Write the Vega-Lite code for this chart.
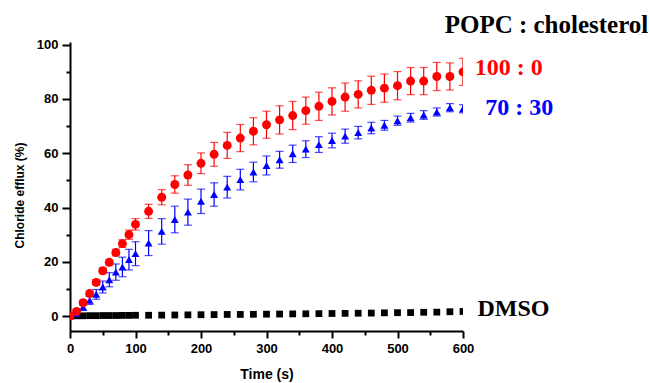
{
  "$schema": "https://vega.github.io/schema/vega-lite/v6.json",
  "width": 393,
  "height": 289,
  "autosize": {"type": "none"},
  "padding": {"left": 70, "top": 42, "right": 187, "bottom": 52},
  "background": "white",
  "config": {
    "view": {"stroke": null},
    "axis": {
      "domainColor": "black", "tickColor": "black", "domainWidth": 2, "tickWidth": 2,
      "grid": false, "labelFont": "Liberation Sans", "labelFontWeight": "bold", "labelFontSize": 13,
      "labelColor": "black", "titleFont": "Liberation Sans", "titleFontWeight": "bold", "titleColor": "black",
      "labelFlush": false, "labelOverlap": false, "labelBound": false
    }
  },
  "datasets": {
    "pts": [
      {"series": "DMSO", "t": 0, "v": 0.1}, {"series": "DMSO", "t": 10, "v": 0.1}, {"series": "DMSO", "t": 20, "v": 0.1},
      {"series": "DMSO", "t": 30, "v": 0.15}, {"series": "DMSO", "t": 40, "v": 0.15}, {"series": "DMSO", "t": 50, "v": 0.2},
      {"series": "DMSO", "t": 60, "v": 0.2}, {"series": "DMSO", "t": 70, "v": 0.2}, {"series": "DMSO", "t": 80, "v": 0.25},
      {"series": "DMSO", "t": 90, "v": 0.25}, {"series": "DMSO", "t": 100, "v": 0.3}, {"series": "DMSO", "t": 120, "v": 0.3},
      {"series": "DMSO", "t": 140, "v": 0.35}, {"series": "DMSO", "t": 160, "v": 0.4}, {"series": "DMSO", "t": 180, "v": 0.45},
      {"series": "DMSO", "t": 200, "v": 0.5}, {"series": "DMSO", "t": 220, "v": 0.55}, {"series": "DMSO", "t": 240, "v": 0.6},
      {"series": "DMSO", "t": 260, "v": 0.6}, {"series": "DMSO", "t": 280, "v": 0.65}, {"series": "DMSO", "t": 300, "v": 0.7},
      {"series": "DMSO", "t": 320, "v": 0.75}, {"series": "DMSO", "t": 340, "v": 0.8}, {"series": "DMSO", "t": 360, "v": 0.85},
      {"series": "DMSO", "t": 380, "v": 0.9}, {"series": "DMSO", "t": 400, "v": 0.95}, {"series": "DMSO", "t": 420, "v": 1.0},
      {"series": "DMSO", "t": 440, "v": 1.05}, {"series": "DMSO", "t": 460, "v": 1.1}, {"series": "DMSO", "t": 480, "v": 1.2},
      {"series": "DMSO", "t": 500, "v": 1.25}, {"series": "DMSO", "t": 520, "v": 1.3}, {"series": "DMSO", "t": 540, "v": 1.4},
      {"series": "DMSO", "t": 560, "v": 1.45}, {"series": "DMSO", "t": 580, "v": 1.6}, {"series": "DMSO", "t": 600, "v": 1.7},

      {"series": "70 : 30", "t": 0, "v": 0, "e": 0.5}, {"series": "70 : 30", "t": 10, "v": 0.9, "e": 1.0},
      {"series": "70 : 30", "t": 20, "v": 3.3, "e": 1.2}, {"series": "70 : 30", "t": 30, "v": 5.8, "e": 1.5},
      {"series": "70 : 30", "t": 40, "v": 8.0, "e": 1.8}, {"series": "70 : 30", "t": 50, "v": 10.7, "e": 2.2},
      {"series": "70 : 30", "t": 60, "v": 13.4, "e": 2.6}, {"series": "70 : 30", "t": 70, "v": 16.2, "e": 3.0},
      {"series": "70 : 30", "t": 80, "v": 18.1, "e": 3.6}, {"series": "70 : 30", "t": 90, "v": 20.8, "e": 3.8},
      {"series": "70 : 30", "t": 100, "v": 23.0, "e": 4.4}, {"series": "70 : 30", "t": 120, "v": 26.9, "e": 4.6},
      {"series": "70 : 30", "t": 140, "v": 31.2, "e": 4.7}, {"series": "70 : 30", "t": 160, "v": 35.6, "e": 4.9},
      {"series": "70 : 30", "t": 180, "v": 38.3, "e": 4.8}, {"series": "70 : 30", "t": 200, "v": 42.3, "e": 4.5},
      {"series": "70 : 30", "t": 220, "v": 44.8, "e": 4.3}, {"series": "70 : 30", "t": 240, "v": 47.5, "e": 4.0},
      {"series": "70 : 30", "t": 260, "v": 50.3, "e": 3.8}, {"series": "70 : 30", "t": 280, "v": 53.1, "e": 3.6},
      {"series": "70 : 30", "t": 300, "v": 55.5, "e": 3.5}, {"series": "70 : 30", "t": 320, "v": 57.6, "e": 3.1},
      {"series": "70 : 30", "t": 340, "v": 59.8, "e": 3.2}, {"series": "70 : 30", "t": 360, "v": 61.5, "e": 3.1},
      {"series": "70 : 30", "t": 380, "v": 63.2, "e": 2.9}, {"series": "70 : 30", "t": 400, "v": 64.7, "e": 2.7},
      {"series": "70 : 30", "t": 420, "v": 66.3, "e": 2.6}, {"series": "70 : 30", "t": 440, "v": 67.6, "e": 2.3},
      {"series": "70 : 30", "t": 460, "v": 69.3, "e": 2.1}, {"series": "70 : 30", "t": 480, "v": 70.3, "e": 1.8},
      {"series": "70 : 30", "t": 500, "v": 72.0, "e": 1.7}, {"series": "70 : 30", "t": 520, "v": 73.1, "e": 1.6},
      {"series": "70 : 30", "t": 540, "v": 74.1, "e": 1.6}, {"series": "70 : 30", "t": 560, "v": 75.2, "e": 1.5},
      {"series": "70 : 30", "t": 580, "v": 76.8, "e": 1.5}, {"series": "70 : 30", "t": 600, "v": 76.4, "e": 1.5},

      {"series": "100 : 0", "t": 0, "v": 0, "e": 0.5}, {"series": "100 : 0", "t": 10, "v": 1.7, "e": 0.8},
      {"series": "100 : 0", "t": 20, "v": 4.9, "e": 0.9}, {"series": "100 : 0", "t": 30, "v": 8.3, "e": 1.0},
      {"series": "100 : 0", "t": 40, "v": 12.4, "e": 1.0}, {"series": "100 : 0", "t": 50, "v": 16.7, "e": 1.0},
      {"series": "100 : 0", "t": 60, "v": 19.8, "e": 1.0}, {"series": "100 : 0", "t": 70, "v": 23.4, "e": 1.2},
      {"series": "100 : 0", "t": 80, "v": 26.7, "e": 1.4}, {"series": "100 : 0", "t": 90, "v": 30.0, "e": 1.7},
      {"series": "100 : 0", "t": 100, "v": 33.8, "e": 2.1}, {"series": "100 : 0", "t": 120, "v": 38.6, "e": 2.6},
      {"series": "100 : 0", "t": 140, "v": 43.8, "e": 2.8}, {"series": "100 : 0", "t": 160, "v": 48.5, "e": 3.2},
      {"series": "100 : 0", "t": 180, "v": 52.0, "e": 3.8}, {"series": "100 : 0", "t": 200, "v": 56.3, "e": 3.8},
      {"series": "100 : 0", "t": 220, "v": 59.6, "e": 4.4}, {"series": "100 : 0", "t": 240, "v": 62.9, "e": 4.8},
      {"series": "100 : 0", "t": 260, "v": 65.6, "e": 5.0}, {"series": "100 : 0", "t": 280, "v": 68.1, "e": 5.0},
      {"series": "100 : 0", "t": 300, "v": 70.5, "e": 5.0}, {"series": "100 : 0", "t": 320, "v": 72.3, "e": 5.2},
      {"series": "100 : 0", "t": 340, "v": 73.9, "e": 5.2}, {"series": "100 : 0", "t": 360, "v": 75.7, "e": 5.0},
      {"series": "100 : 0", "t": 380, "v": 77.3, "e": 5.2}, {"series": "100 : 0", "t": 400, "v": 79.1, "e": 5.0},
      {"series": "100 : 0", "t": 420, "v": 80.7, "e": 5.2}, {"series": "100 : 0", "t": 440, "v": 81.7, "e": 5.0},
      {"series": "100 : 0", "t": 460, "v": 83.2, "e": 5.2}, {"series": "100 : 0", "t": 480, "v": 84.0, "e": 5.2},
      {"series": "100 : 0", "t": 500, "v": 84.9, "e": 5.2}, {"series": "100 : 0", "t": 520, "v": 86.6, "e": 5.0},
      {"series": "100 : 0", "t": 540, "v": 86.6, "e": 5.0}, {"series": "100 : 0", "t": 560, "v": 88.3, "e": 5.2},
      {"series": "100 : 0", "t": 580, "v": 88.3, "e": 5.0}, {"series": "100 : 0", "t": 600, "v": 90.0, "e": 5.0}
    ],
    "labels": [
      {"label": "100 : 0", "series": "100 : 0", "t": 618, "v": 89.0},
      {"label": "70 : 30", "series": "70 : 30", "t": 634, "v": 74.0},
      {"label": "DMSO", "series": "DMSO", "t": 622, "v": -0.1}
    ],
    "header": [
      {"label": "POPC : cholesterol", "series": "header", "t": 572, "v": 104.5}
    ]
  },
  "layer": [
    {
      "data": {"name": "pts"},
      "transform": [{"filter": "isValid(datum.e)"}],
      "mark": {"type": "errorbar", "ticks": {"size": 8}, "thickness": 1.2, "clip": true},
      "encoding": {
        "x": {"field": "t", "type": "quantitative", "scale": {"domain": [0, 600], "nice": false, "zero": false}, "axis": null},
        "y": {"field": "v", "type": "quantitative", "scale": {"domain": [-5.5, 101], "nice": false, "zero": false}, "axis": null},
        "yError": {"field": "e"},
        "color": {"field": "series", "type": "nominal", "scale": {"domain": ["DMSO", "70 : 30", "100 : 0", "header"], "range": ["#000000", "#0000ff", "#ff0000", "#000000"]}, "legend": null}
      }
    },
    {
      "data": {"name": "pts"},
      "mark": {"type": "point", "filled": true, "opacity": 1, "clip": true},
      "encoding": {
        "x": {"field": "t", "type": "quantitative", "scale": {"domain": [0, 600], "nice": false, "zero": false},
          "axis": {"orient": "bottom", "values": [0, 100, 200, 300, 400, 500, 600], "tickSize": 7, "labelPadding": 4, "title": "Time (s)", "titleFontSize": 14, "titlePadding": 12}},
        "y": {"field": "v", "type": "quantitative", "scale": {"domain": [-5.5, 101], "nice": false, "zero": false},
          "axis": {"orient": "left", "values": [0, 20, 40, 60, 80, 100], "tickSize": 8, "labelPadding": 4, "title": "Chloride efflux (%)", "titleFontSize": 12, "titlePadding": 10, "titleY": 153}},
        "shape": {"field": "series", "type": "nominal", "scale": {"domain": ["DMSO", "70 : 30", "100 : 0"], "range": ["square", "triangle-up", "circle"]}, "legend": null},
        "size": {"field": "series", "type": "nominal", "scale": {"domain": ["DMSO", "70 : 30", "100 : 0"], "range": [46, 80, 52]}, "legend": null},
        "color": {"field": "series", "type": "nominal", "scale": {"domain": ["DMSO", "70 : 30", "100 : 0", "header"], "range": ["#000000", "#0000ff", "#ff0000", "#000000"]}, "legend": null}
      }
    },
    {
      "data": {"name": "labels"},
      "mark": {"type": "text", "align": "left", "baseline": "alphabetic", "font": "Liberation Serif", "fontWeight": "bold", "fontSize": 24},
      "encoding": {
        "x": {"field": "t", "type": "quantitative", "scale": {"domain": [0, 600], "nice": false, "zero": false},
          "axis": {"orient": "bottom", "values": [50, 150, 250, 350, 450, 550], "tickSize": 4, "labels": false, "domain": false, "title": null}},
        "y": {"field": "v", "type": "quantitative", "scale": {"domain": [-5.5, 101], "nice": false, "zero": false},
          "axis": {"orient": "left", "values": [10, 30, 50, 70, 90], "tickSize": 4, "labels": false, "domain": false, "title": null}},
        "text": {"field": "label"},
        "color": {"field": "series", "type": "nominal", "scale": {"domain": ["DMSO", "70 : 30", "100 : 0", "header"], "range": ["#000000", "#0000ff", "#ff0000", "#000000"]}, "legend": null}
      }
    },
    {
      "data": {"name": "header"},
      "mark": {"type": "text", "align": "left", "baseline": "alphabetic", "font": "Liberation Serif", "fontWeight": "bold", "fontSize": 25},
      "encoding": {
        "x": {"field": "t", "type": "quantitative", "scale": {"domain": [0, 600], "nice": false, "zero": false}, "axis": null},
        "y": {"field": "v", "type": "quantitative", "scale": {"domain": [-5.5, 101], "nice": false, "zero": false}, "axis": null},
        "text": {"field": "label"},
        "color": {"field": "series", "type": "nominal", "scale": {"domain": ["DMSO", "70 : 30", "100 : 0", "header"], "range": ["#000000", "#0000ff", "#ff0000", "#000000"]}, "legend": null}
      }
    }
  ],
  "resolve": {"axis": {"x": "independent", "y": "independent"}}
}
